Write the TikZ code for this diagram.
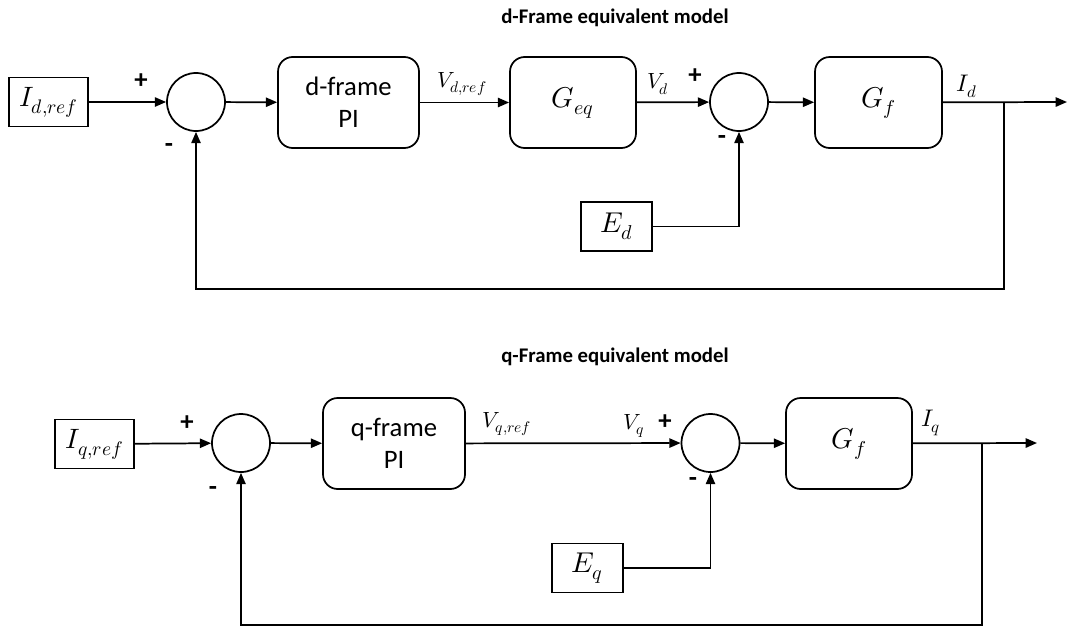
\documentclass[tikz,border=0pt]{standalone}
\usepackage{fontspec}
\usepackage{unicode-math}
\setmainfont{Carlito}
\setmathfont{Latin Modern Math}
\usetikzlibrary{arrows.meta}
\begin{document}
\begin{tikzpicture}[x=0.75pt,y=-0.75pt,line width=1.3pt,
  >={Triangle[length=8.5pt,width=7pt]},
  refbox/.style={draw,rectangle,minimum width=79*0.75pt,minimum height=49*0.75pt,inner sep=0pt},
  blk/.style={draw,rectangle,rounded corners=11pt,minimum height=91*0.75pt,inner sep=0pt},
  sumnode/.style={draw,circle,minimum size=58*0.75pt,inner sep=0pt},
  lbl/.style={inner sep=0pt},
  sign/.style={inner sep=0pt,font=\fontsize{20}{22}\selectfont\bfseries},
  ttl/.style={inner sep=0pt,font=\fontsize{15.6}{18}\selectfont\bfseries},
  boxtxt/.style={font=\fontsize{20}{24}\selectfont,align=center},
  bigm/.style={font=\fontsize{21}{24}\selectfont},
  midm/.style={font=\fontsize{21.5}{24}\selectfont},
  smm/.style={font=\fontsize{16.5}{19}\selectfont}]
\useasboundingbox (0,0) rectangle (1070,632);

% ---------- d-frame ----------
\node[ttl] (td) at (615,18) {d-Frame equivalent model};
\node[refbox,bigm] (refd) at (48.5,102) {$I_{d,ref}$};
\node[sumnode] (s1d) at (196,102) {};
\node[blk,minimum width=141*0.75pt,boxtxt] (pid) at (348.5,102.5) {d-frame\\PI};
\node[blk,minimum width=126*0.75pt,midm] (geq) at (573,102.5) {$G_{eq}$};
\node[sumnode] (s2d) at (739,102) {};
\node[blk,minimum width=127*0.75pt,midm] (gfd) at (878.5,102.5) {$G_{f}$};
\node[refbox,minimum width=71*0.75pt,midm] (Ed) at (616.5,226.5) {$E_{d}$};
\coordinate (bd) at (1004,102);
\coordinate (fbd) at (1004,289);
\coordinate (outd) at (1067,102);

\node[sign] (p1d) at (141,81) {+};
\node[sign] (m1d) at (169,148) {-};
\node[sign] (p2d) at (695,76) {+};
\node[sign] (m2d) at (722,140) {-};
\node[lbl,smm] (vdref) at (462,84) {$V_{d,ref}$};
\node[lbl,smm] (vd) at (658,84) {$V_{d}$};
\node[lbl,font=\fontsize{18}{20}\selectfont] (id) at (967,86) {$I_{d}$};

\draw[->] (refd) -- (s1d);
\draw[->] (s1d) -- (pid);
\draw[->] (pid) -- (geq);
\draw[->] (geq) -- (s2d);
\draw[->] (s2d) -- (gfd);
\draw[->] (gfd) -- (outd);
\draw[->] (bd) -- (fbd) -| (s1d.south);
\draw[->] (Ed.east) -| (s2d.south);

% ---------- q-frame ----------
\node[ttl] (tq) at (615,357) {q-Frame equivalent model};
\node[refbox,bigm] (refq) at (94.5,444) {$I_{q,ref}$};
\node[sumnode] (s1q) at (241,443) {};
\node[blk,minimum width=142*0.75pt,boxtxt] (piq) at (394,443.5) {q-frame\\PI};
\node[sumnode] (s2q) at (710.5,443) {};
\node[blk,minimum width=126*0.75pt,midm] (gfq) at (849,443.5) {$G_{f}$};
\node[refbox,minimum width=71*0.75pt,midm] (Eq) at (587.5,568) {$E_{q}$};
\coordinate (bq) at (982,443);
\coordinate (fbq) at (982,625);
\coordinate (outq) at (1037,443);

\node[sign] (p1q) at (187,423) {+};
\node[sign] (m1q) at (213,491) {-};
\node[sign] (p2q) at (665,422) {+};
\node[sign] (m2q) at (693,482) {-};
\node[lbl,smm] (vqref) at (507,424) {$V_{q,ref}$};
\node[lbl,smm] (vq) at (634,426) {$V_{q}$};
\node[lbl,font=\fontsize{18}{20}\selectfont] (iq) at (931,423) {$I_{q}$};

\draw[->] (refq) -- (s1q);
\draw[->] (s1q) -- (piq);
\draw[->] (piq) -- (s2q);
\draw[->] (s2q) -- (gfq);
\draw[->] (gfq) -- (outq);
\draw[->] (bq) -- (fbq) -| (s1q.south);
\draw[->] (Eq.east) -| (s2q.south);
\end{tikzpicture}
\end{document}
